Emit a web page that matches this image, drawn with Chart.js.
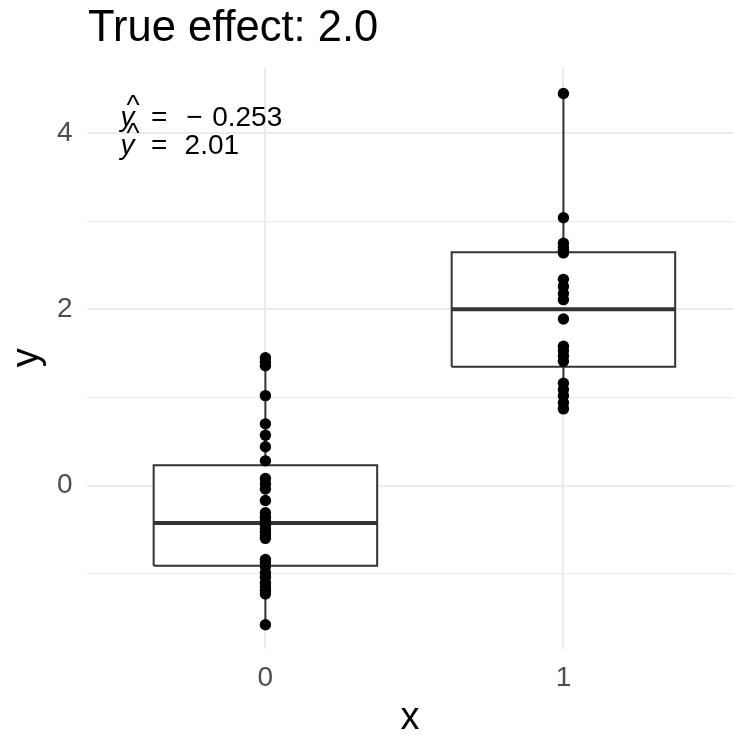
<!DOCTYPE html>
<html>
<head>
<meta charset="utf-8">
<script src="https://cdn.jsdelivr.net/npm/chart.js@4.4.1/dist/chart.umd.min.js"></script>
<style>
  html, body { margin: 0; padding: 0; background: #fff; }
  #wrap { width: 739px; height: 736px; }
</style>
</head>
<body>
<div id="wrap"><canvas id="chart" width="739" height="736"></canvas></div>
<script>
// x categories
const groups = [0, 1];
// observations in each group
const yGroup0 = [1.45, 1.40, 1.36, 1.02, 0.70, 0.57, 0.44, 0.28, 0.08, 0.02,
  -0.04, -0.17, -0.31, -0.36, -0.40, -0.45, -0.49, -0.53, -0.57, -0.60,
  -0.84, -0.88, -0.92, -0.99, -1.04, -1.10, -1.15, -1.19, -1.23, -1.58];
const yGroup1 = [4.45, 3.04, 2.75, 2.70, 2.67, 2.64, 2.34, 2.26, 2.18, 2.11,
  1.89, 1.58, 1.53, 1.47, 1.41, 1.16, 1.09, 1.02, 0.94, 0.87];
// fitted group values shown in the corner
const fitted = [-0.253, 2.01];
// labelled y ticks
const yTickLabels = [0, 2, 4];
const yGridValues = [-1, 0, 1, 2, 3, 4];
const titleText = 'True effect: 2.0';

const FONT = "'Liberation Sans', Arial, Helvetica, sans-serif";
const LINE = '#333333';
const BOX_HALF = 0.375;

function quantile(sorted, p) {
  const h = (sorted.length - 1) * p;
  const lo = Math.floor(h), hi = Math.ceil(h);
  return sorted[lo] + (h - lo) * (sorted[hi] - sorted[lo]);
}

function boxStats(values) {
  const s = values.slice().sort((a, b) => a - b);
  const q1 = quantile(s, 0.25), med = quantile(s, 0.5), q3 = quantile(s, 0.75);
  const iqr = q3 - q1;
  const inside = s.filter(v => v >= q1 - 1.5 * iqr && v <= q3 + 1.5 * iqr);
  return { q1, med, q3, lo: inside[0], hi: inside[inside.length - 1] };
}

const series = [yGroup0, yGroup1];
const datasets = [];
groups.forEach((g, i) => {
  const st = boxStats(series[i]);
  // whisker, drawn behind the box
  datasets.push({
    data: [{ x: g, y: st.lo }, { x: g, y: st.hi }],
    showLine: true, borderColor: LINE, borderWidth: 2, pointRadius: 0, order: 4
  });
  // box from q1 to q3
  datasets.push({
    data: [
      { x: g - BOX_HALF, y: st.q1 }, { x: g + BOX_HALF, y: st.q1 },
      { x: g + BOX_HALF, y: st.q3 }, { x: g - BOX_HALF, y: st.q3 },
      { x: g - BOX_HALF, y: st.q1 }
    ],
    showLine: true, fill: 'shape', backgroundColor: '#ffffff',
    borderColor: LINE, borderWidth: 2, pointRadius: 0, tension: 0, order: 3
  });
  // median
  datasets.push({
    data: [{ x: g - BOX_HALF, y: st.med }, { x: g + BOX_HALF, y: st.med }],
    showLine: true, borderColor: LINE, borderWidth: 4, pointRadius: 0, order: 2
  });
  // raw observations
  datasets.push({
    data: series[i].map(v => ({ x: g, y: v })),
    showLine: false, pointRadius: 5.7, pointBackgroundColor: '#000',
    pointBorderWidth: 0, order: 1
  });
});

// title and fitted-value labels
const textLayer = {
  id: 'textLayer',
  afterDraw(chart) {
    const { ctx, chartArea } = chart;
    ctx.save();
    ctx.fillStyle = '#000';
    ctx.textAlign = 'left';
    ctx.textBaseline = 'alphabetic';
    ctx.font = `43.5px ${FONT}`;
    ctx.fillText(titleText, chartArea.left + 1.5, 40.5);

    const size = 28;
    const x0 = chartArea.left + 34;
    fitted.forEach((v, i) => {
      const base = chartArea.top + 59 + i * 28;
      ctx.font = `italic ${size}px ${FONT}`;
      ctx.fillText('y', x0, base);
      ctx.font = `${size}px ${FONT}`;
      ctx.fillText('^', x0 + 6, base - 12.5);
      ctx.fillText('=', x0 + 30.3, base);
      if (v < 0) {
        ctx.fillText('\u2212', x0 + 65.6, base);
        ctx.fillText(String(Math.abs(v)), x0 + 91.6, base);
      } else {
        ctx.fillText(String(v), x0 + 64, base);
      }
    });
    ctx.restore();
  }
};

new Chart(document.getElementById('chart'), {
  type: 'scatter',
  data: { datasets },
  plugins: [textLayer],
  options: {
    responsive: false,
    animation: false,
    layout: { padding: { top: 67, right: 4, left: 0, bottom: 0 } },
    plugins: { legend: { display: false }, tooltip: { enabled: false } },
    scales: {
      x: {
        type: 'linear', min: -0.6, max: 1.57,
        afterBuildTicks: axis => { axis.ticks = groups.map(v => ({ value: v })); },
        afterFit: axis => { axis.height = 87.5; },
        border: { display: false },
        grid: { color: '#ebebeb', lineWidth: 2, drawTicks: false },
        ticks: {
          color: '#4d4d4d', padding: 13,
          font: { family: FONT, size: 28 },
          callback: v => String(v)
        },
        title: {
          display: true, text: 'x', color: '#000',
          font: { family: FONT, size: 38, lineHeight: 0.9 },
          padding: { top: 0, bottom: 0 }
        }
      },
      y: {
        type: 'linear', min: -1.85, max: 4.75,
        afterBuildTicks: axis => { axis.ticks = yGridValues.map(v => ({ value: v })); },
        afterFit: axis => { axis.width = 86.6; },
        border: { display: false },
        grid: {
          color: '#ebebeb', drawTicks: false,
          lineWidth: c => (yTickLabels.includes(c.tick.value) ? 2 : 1.2)
        },
        ticks: {
          color: '#4d4d4d', padding: 14,
          font: { family: FONT, size: 28 },
          callback: v => (yTickLabels.includes(v) ? String(v) : '')
        },
        title: {
          display: true, text: 'y', color: '#000',
          font: { family: FONT, size: 38, lineHeight: 0.9 },
          padding: { top: 10, bottom: 0 }
        }
      }
    }
  }
});
</script>
</body>
</html>
